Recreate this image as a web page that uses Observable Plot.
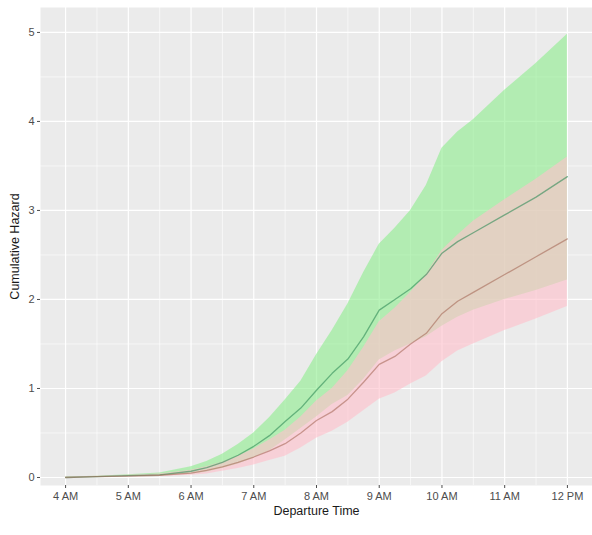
<!DOCTYPE html>
<html><head><meta charset="utf-8">
<script src="https://cdn.jsdelivr.net/npm/d3@7"></script>
<script src="https://cdn.jsdelivr.net/npm/@observablehq/plot@0.6"></script>
<style>
body{margin:0;background:#fff;}
#chart svg{display:block;}
#chart g[aria-label="x-axis label"] text, #chart g[aria-label="y-axis label"] text {font-size:12.5px; fill:#1a1a1a;}
</style></head><body><div id="chart"></div>
<script>
// departure time in hours (4 = 4 AM, 12 = 12 PM)
const times      = [4, 4.5, 5, 5.5, 6, 6.25, 6.5, 6.75, 7, 7.25, 7.5, 7.75, 8, 8.25, 8.5, 8.75, 9, 9.25, 9.5, 9.75, 10, 10.25, 10.5, 11, 11.5, 12];
// green group
const greenMean  = [0, 0.01, 0.02, 0.03, 0.07, 0.11, 0.17, 0.25, 0.35, 0.47, 0.63, 0.78, 0.98, 1.17, 1.33, 1.58, 1.88, 2.0, 2.12, 2.28, 2.52, 2.65, 2.75, 2.95, 3.15, 3.38];
const greenUpper = [0.005, 0.015, 0.03, 0.05, 0.12, 0.18, 0.26, 0.37, 0.5, 0.67, 0.87, 1.08, 1.38, 1.65, 1.95, 2.3, 2.62, 2.8, 3.0, 3.28, 3.7, 3.88, 4.02, 4.35, 4.65, 4.98];
const greenLower = [0, 0.005, 0.01, 0.02, 0.04, 0.06, 0.1, 0.15, 0.22, 0.3, 0.42, 0.55, 0.68, 0.82, 0.92, 1.1, 1.32, 1.42, 1.5, 1.58, 1.7, 1.8, 1.88, 2.0, 2.1, 2.22];
// pink group
const pinkMean   = [0, 0.01, 0.015, 0.025, 0.05, 0.08, 0.12, 0.17, 0.23, 0.3, 0.38, 0.5, 0.64, 0.74, 0.88, 1.07, 1.27, 1.36, 1.5, 1.62, 1.84, 1.98, 2.08, 2.28, 2.48, 2.68];
const pinkUpper  = [0.005, 0.015, 0.025, 0.04, 0.08, 0.12, 0.17, 0.24, 0.32, 0.42, 0.53, 0.68, 0.86, 1.0, 1.2, 1.46, 1.75, 1.9, 2.08, 2.28, 2.55, 2.72, 2.88, 3.12, 3.35, 3.6];
const pinkLower  = [0, 0.003, 0.007, 0.012, 0.025, 0.04, 0.07, 0.1, 0.14, 0.19, 0.24, 0.33, 0.44, 0.52, 0.62, 0.75, 0.88, 0.95, 1.05, 1.14, 1.3, 1.42, 1.5, 1.65, 1.78, 1.92];

const xTickValues = [4, 5, 6, 7, 8, 9, 10, 11, 12];
const xTickLabels = ["4 AM", "5 AM", "6 AM", "7 AM", "8 AM", "9 AM", "10 AM", "11 AM", "12 PM"];
const xMinorValues = [4.5, 5.5, 6.5, 7.5, 8.5, 9.5, 10.5, 11.5];
const yTickValues = [0, 1, 2, 3, 4, 5];
const yMinorValues = [0.5, 1.5, 2.5, 3.5, 4.5];

const rows = times.map((t, i) => ({
  t, gm: greenMean[i], gu: greenUpper[i], gl: greenLower[i],
  pm: pinkMean[i], pu: pinkUpper[i], pl: pinkLower[i]
}));
const labelOf = new Map(xTickValues.map((v, i) => [v, xTickLabels[i]]));

const chart = Plot.plot({
  width: 592,
  height: 535,
  marginLeft: 40,
  marginRight: 0,
  marginTop: 7,
  marginBottom: 50,
  style: {fontFamily: "'Liberation Sans', Arial, sans-serif", background: "#fff"},
  x: {domain: [3.6, 12.4]},
  y: {domain: [-0.09, 5.28]},
  marks: [
    Plot.frame({fill: "#EBEBEB", stroke: null}),
    Plot.ruleX(xMinorValues, {stroke: "#fff", strokeWidth: 0.6}),
    Plot.ruleY(yMinorValues, {stroke: "#fff", strokeWidth: 0.6}),
    Plot.ruleX(xTickValues, {stroke: "#fff", strokeWidth: 1.2}),
    Plot.ruleY(yTickValues, {stroke: "#fff", strokeWidth: 1.2}),
    Plot.areaY(rows, {x: "t", y1: "gl", y2: "gu", fill: "#90EE90", fillOpacity: 0.62}),
    Plot.areaY(rows, {x: "t", y1: "pl", y2: "pu", fill: "#FFC0CB", fillOpacity: 0.62}),
    Plot.lineY(rows, {x: "t", y: "gm", stroke: "#2e8b57", strokeOpacity: 0.6, strokeWidth: 1.3}),
    Plot.lineY(rows, {x: "t", y: "pm", stroke: "#a0604f", strokeOpacity: 0.55, strokeWidth: 1.3}),
    Plot.axisX({ticks: xTickValues, tickFormat: d => labelOf.get(d), tickSize: 3, tickPadding: 4,
      fontSize: 11, color: "#4d4d4d",
      label: "Departure Time", labelAnchor: "center", labelArrow: "none", labelOffset: 29}),
    Plot.axisY({ticks: yTickValues, tickFormat: d => String(d), tickSize: 3, tickPadding: 3,
      fontSize: 11, color: "#4d4d4d",
      label: "Cumulative Hazard", labelAnchor: "center", labelArrow: "none", labelOffset: 30})
  ]
});
document.getElementById("chart").appendChild(chart);
</script>
</body></html>
